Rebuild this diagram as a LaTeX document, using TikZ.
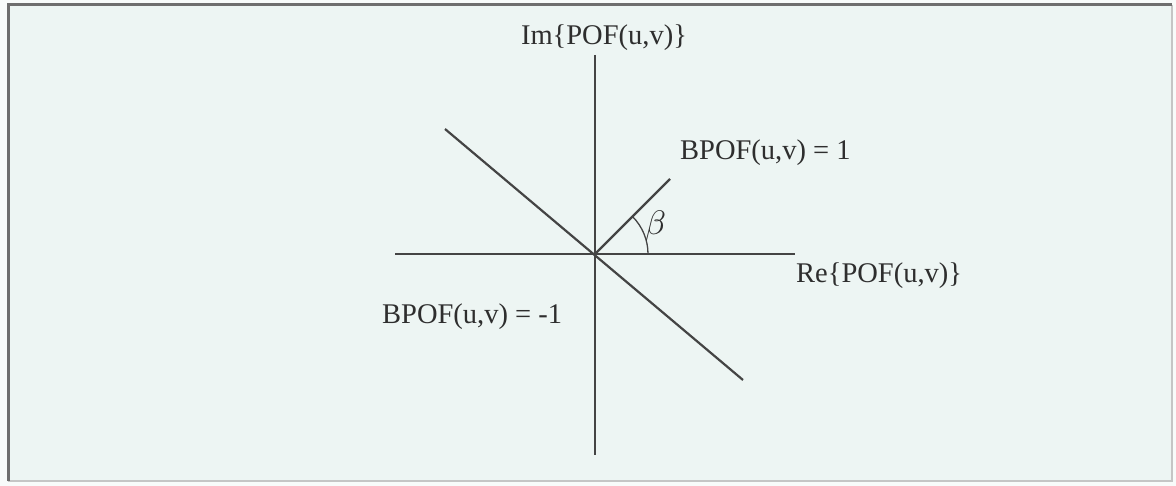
\documentclass[tikz,border=0pt]{standalone}
\usepackage{fontspec}
\setmainfont{Liberation Serif}
\usepackage{unicode-math}
\setmathfont{Latin Modern Math}
\definecolor{bgc}{HTML}{EDF5F3}
\definecolor{framec}{HTML}{6E6E6E}
\definecolor{linec}{HTML}{444444}
\definecolor{textc}{HTML}{2E2E2E}
\tikzset{
  axis/.style={draw=linec, line width=2.2pt},
  lbl/.style={text=textc, font=\fontsize{28.5}{34}\selectfont, inner sep=0pt}
}
\begin{document}
\begin{tikzpicture}[x=1pt,y=-1pt]
\useasboundingbox (0,0) rectangle (1176,486);
\fill[white!60!bgc] (0,0) rectangle (1176,486);
\fill[bgc] (8,5) rectangle (1172,481);
\draw[framec!40, line width=1.2pt] (1172,5) -- (1172,481) -- (8,481);
\draw[framec, line width=3pt] (8,481) -- (8,5) -- (1172,5);
% coordinates
\coordinate (O) at (595,254);
\coordinate (yt) at (595,55);
\coordinate (yb) at (595,455);
\coordinate (xl) at (395,254);
\coordinate (xr) at (795,254);
\coordinate (dl) at (445,129);
\coordinate (dr) at (743,380);
\coordinate (p1) at (670,179);
% axes and lines
\draw[axis] (yt) -- (yb);
\draw[axis] (xl) -- (xr);
\draw[axis] (dl) -- (dr);
\draw[axis] (O) -- (p1);
\draw[draw=linec, line width=1.3pt] ([shift={(0:53)}]O) arc[start angle=0, end angle=-45, radius=53];
% labels
\node[lbl] (im) at (604,38) {Im\{POF(u,v)\}};
\node[lbl, anchor=base west] (b1) at (680,160) {BPOF(u,v) = 1};
\node[lbl, anchor=base west] (bm1) at (382,324) {BPOF(u,v) = -1};
\node[lbl, anchor=base west] (re) at (796,283) {Re\{POF(u,v)\}};
\node[lbl, font=\fontsize{34}{40}\selectfont] (beta) at (656,226) {$\beta$};
\end{tikzpicture}
\end{document}
